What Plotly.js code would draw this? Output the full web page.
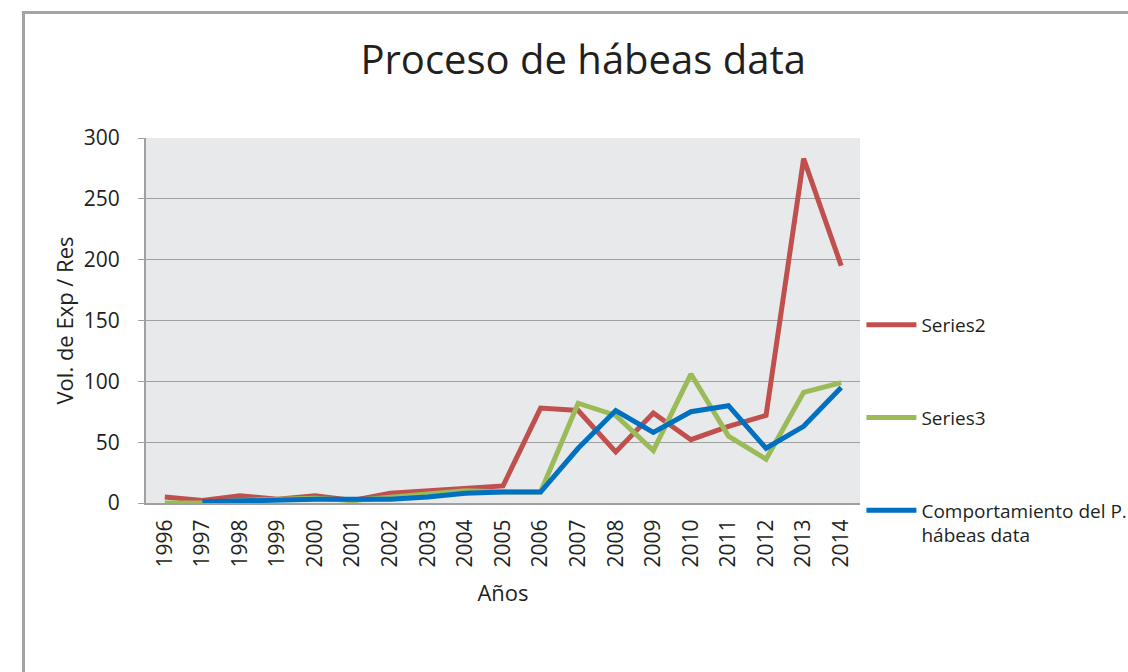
<!DOCTYPE html>
<html>
<head>
<meta charset="utf-8">
<script src="https://cdn.plot.ly/plotly-3.0.1.min.js"></script>
<style>
  html, body { margin: 0; padding: 0; background: #fff; }
  #frame { position: absolute; left: 22px; top: 11px; width: 1200px; height: 800px;
           border-top: 3px solid #a3a3a3; border-left: 3px solid #a3a3a3; z-index: 0; }
  #chart { position: absolute; left: 0; top: 0; width: 1128px; height: 672px; z-index: 1; }
</style>
</head>
<body>
<div id="frame"></div>
<div id="chart"></div>
<script>
const years = ['1996','1997','1998','1999','2000','2001','2002','2003','2004','2005',
               '2006','2007','2008','2009','2010','2011','2012','2013','2014'];
const series2 = [5, 2, 6, 3, 6, 2, 8, 10, 12, 14, 78, 76, 42, 74, 52, 63, 72, 283, 195];
const series3 = [0, 0, 2, 3, 4, 2, 5, 7, 10, 9, 9, 82, 72, 43, 106, 55, 36, 91, 99];
const comportamiento = [null, 1, 2, 3, 3, 3, 3, 5, 8, 9, 9, 45, 76, 58, 75, 80, 45, 63, 95];

const names = ['Series2', 'Series3', 'Comportamiento del P.<br>hábeas data'];
const colors = ['#c0504d', '#9bbb59', '#0070c0'];
const values = [series2, series3, comportamiento];

const traces = values.map((v, i) => ({
  type: 'scatter', mode: 'lines', x: years, y: v, name: names[i],
  legendgroup: 'g' + i,
  line: { color: colors[i], width: 5 },
  connectgaps: false
}));

const font = "'Open Sans', 'Noto Sans', sans-serif";
const layout = {
  width: 1128, height: 672,
  paper_bgcolor: 'rgba(0,0,0,0)',
  plot_bgcolor: '#e8e9eb',
  margin: { l: 146, r: 268, t: 138, b: 169, pad: 0, autoexpand: false },
  font: { family: font, color: '#231f20', size: 21 },
  title: { text: 'Proceso de hábeas data', font: { size: 40, family: font, color: '#231f20' },
           x: 0.517, xanchor: 'center', y: 0.91, yanchor: 'middle' },
  xaxis: {
    type: 'category', range: [-0.5, 18.5], tickangle: -90,
    showgrid: false, showline: true, linecolor: '#a0a0a0', linewidth: 2,
    ticks: '', tickfont: { size: 21 }, ticklabelstandoff: 6,
    title: { text: 'Años', font: { size: 22 }, standoff: 19 },
    zeroline: false, fixedrange: true
  },
  yaxis: {
    range: [0, 300], dtick: 50, showgrid: true, gridcolor: '#a0a0a0', gridwidth: 1,
    showline: true, linecolor: '#a0a0a0', linewidth: 2,
    ticks: 'outside', ticklen: 6, tickcolor: '#a0a0a0', tickfont: { size: 21 },
    ticklabelstandoff: 14,
    title: { text: 'Vol. de Exp / Res', font: { size: 22 }, standoff: 4 },
    zeroline: false, fixedrange: true
  },
  showlegend: true,
  legend: {
    x: 1.002, xanchor: 'left', y: 0.540, yanchor: 'top',
    font: { size: 19, color: '#231f20' },
    bgcolor: 'rgba(0,0,0,0)', borderwidth: 0,
    tracegroupgap: 65, valign: 'top', traceorder: 'grouped', itemwidth: 50
  }
};

Plotly.newPlot('chart', traces, layout, { displayModeBar: false, staticPlot: true });
</script>
</body>
</html>
